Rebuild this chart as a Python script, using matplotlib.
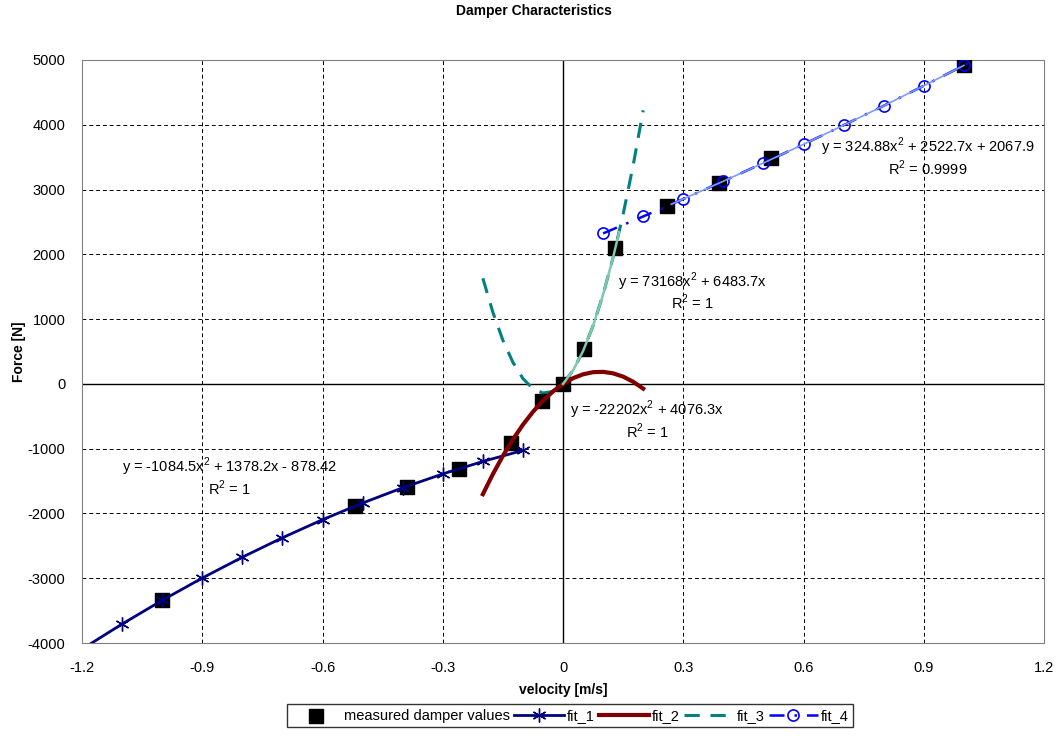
import matplotlib
matplotlib.use('Agg')
import matplotlib.pyplot as plt
from matplotlib.ticker import MultipleLocator

plt.rcParams['font.family'] = ['Liberation Sans', 'DejaVu Sans']
plt.rcParams['axes.unicode_minus'] = False
plt.rcParams['mathtext.fontset'] = 'custom'
plt.rcParams['mathtext.rm'] = 'Liberation Sans'

# measured damper values
meas_v = [-1.0, -0.52, -0.39, -0.26, -0.13, -0.053, 0.0, 0.052, 0.13, 0.26, 0.39, 0.52, 1.0]
meas_f = [-3340, -1890, -1590, -1310, -920, -270, 0, 540, 2100, 2750, 3100, 3480, 4920]

# fit_1 (rebound, v < -0.1)
fit1_v = [-1.2, -1.1, -1.0, -0.9, -0.8, -0.7, -0.6, -0.5, -0.4, -0.3, -0.2, -0.1]
fit1_f = [-4094, -3707, -3341, -2997, -2675, -2375, -2096, -1839, -1603, -1390, -1197, -1027]

# fit_2 (low speed rebound)
fit2_v = [-0.2, -0.175, -0.15, -0.125, -0.1, -0.075, -0.05, -0.025, 0.0,
          0.025, 0.05, 0.075, 0.1, 0.125, 0.15, 0.175, 0.2]
fit2_f = [-1703, -1393, -1111, -857, -630, -431, -259, -116, 0,
          88, 148, 181, 186, 163, 112, 33, -73]

# fit_3 (low speed compression)
fit3_v = [-0.2, -0.175, -0.15, -0.125, -0.1, -0.075, -0.05, -0.025, 0.0,
          0.025, 0.05, 0.075, 0.1, 0.125, 0.15, 0.175, 0.2]
fit3_f = [1630, 1106, 674, 333, 83, -75, -141, -116, 0,
          208, 507, 898, 1380, 1954, 2619, 3375, 4223]

# fit_4 (high speed compression)
fit4_v = [0.1, 0.2, 0.3, 0.4, 0.5, 0.6, 0.7, 0.8, 0.9, 1.0, 1.05]
fit4_f = [2323, 2585, 2854, 3129, 3410, 3699, 3993, 4294, 4602, 4916, 5077]

# excel trendlines through the measured points
trend3_v = [0.0, 0.025, 0.05, 0.075, 0.1, 0.125, 0.14]
trend3_f = [0, 208, 507, 898, 1380, 1954, 2342]
trend4_v = [0.27, 0.4, 0.5, 0.6, 0.7, 0.8, 0.9, 1.0]
trend4_f = [2773, 3129, 3410, 3699, 3993, 4294, 4602, 4916]

# trendline labels: (x, y of equation, y of R2, equation, R2)
eq_labels = [
    (0.911, 3657, 3333, 'y = 324.88x$^2$ + 2522.7x + 2067.9', 'R$^2$ = 0.9999'),
    (0.322, 1573, 1264, 'y = 73168x$^2$ + 6483.7x', 'R$^2$ = 1'),
    (0.21, -404, -728, 'y = -22202x$^2$ + 4076.3x', 'R$^2$ = 1'),
    (-0.831, -1284, -1608, 'y = -1084.5x$^2$ + 1378.2x - 878.42', 'R$^2$ = 1'),
]

fig = plt.figure(figsize=(10.62, 7.38), dpi=100)
ax = fig.add_axes([0.0772, 0.1287, 0.9059, 0.79])

ax.set_xlim(-1.2, 1.2)
ax.set_ylim(-4000, 5000)
ax.yaxis.set_major_locator(MultipleLocator(1000))
ax.set_xticks([-1.2, -0.9, -0.6, -0.3, 0, 0.3, 0.6, 0.9, 1.2])
ax.set_xticklabels(['-1.2', '-0.9', '-0.6', '-0.3', '0', '0.3', '0.6', '0.9', '1.2'])
ax.grid(True, color='black', linestyle=(0, (4, 3)), linewidth=0.7)
ax.axhline(0, color='black', linewidth=1.0, zorder=1)
ax.axvline(0, color='black', linewidth=1.0, zorder=1)
for s in ax.spines.values():
    s.set_color('#808080')
ax.tick_params(labelsize=10.5, length=0, colors='black')
ax.tick_params(axis='y', pad=12)
ax.tick_params(axis='x', pad=13)

ax.scatter(meas_v, meas_f, marker='s', s=90, color='black', zorder=3,
           label='measured damper values')
ax.plot(fit1_v, fit1_f, color='#000080', linewidth=2, marker=(6, 2, 0), markersize=10,
        markeredgewidth=1.0, markevery=list(range(1, 12)), label='fit_1', zorder=4)
ax.plot(fit2_v, fit2_f, color='#800000', linewidth=3, label='fit_2', zorder=4)
ax.plot(fit3_v, fit3_f, color='#008080', linewidth=2.2, linestyle=(0, (5, 3.5)),
        label='fit_3', zorder=2)
ax.plot(trend3_v, trend3_f, color='#80c8b0', linewidth=1.8, zorder=4)
ax.plot(fit4_v, fit4_f, color='#0000ff', linewidth=1.8, linestyle=(0, (6, 4, 1, 4)),
        marker='o', markersize=8, markerfacecolor='none', markeredgewidth=1.2,
        markevery=list(range(10)), label='fit_4', zorder=4)
ax.plot(trend4_v, trend4_f, color='#7a9cff', linewidth=1.2, zorder=4)

for x, y1, y2, eq, r2 in eq_labels:
    ax.text(x, y1, eq, fontsize=10.5, ha='center', va='center')
    ax.text(x, y2, r2, fontsize=10.5, ha='center', va='center')

fig.text(0.503, 1 - 11 / 738, 'Damper Characteristics', fontsize=10, fontweight='bold',
         ha='center', va='center')
ax.set_xlabel('velocity [m/s]', fontsize=10, fontweight='bold', labelpad=6)
ax.set_ylabel('Force [N]', fontsize=10, fontweight='bold')
ax.yaxis.set_label_coords(-0.058, 0.5)

leg = fig.legend(loc='lower center', bbox_to_anchor=(0.537, 0.005), ncol=5, fontsize=10.5,
                 frameon=True, fancybox=False, edgecolor='black', handlelength=3.4,
                 handletextpad=0.2, columnspacing=0.3, borderpad=0.3)
leg.get_frame().set_linewidth(1.0)

fig.savefig('out.png', dpi=100)
